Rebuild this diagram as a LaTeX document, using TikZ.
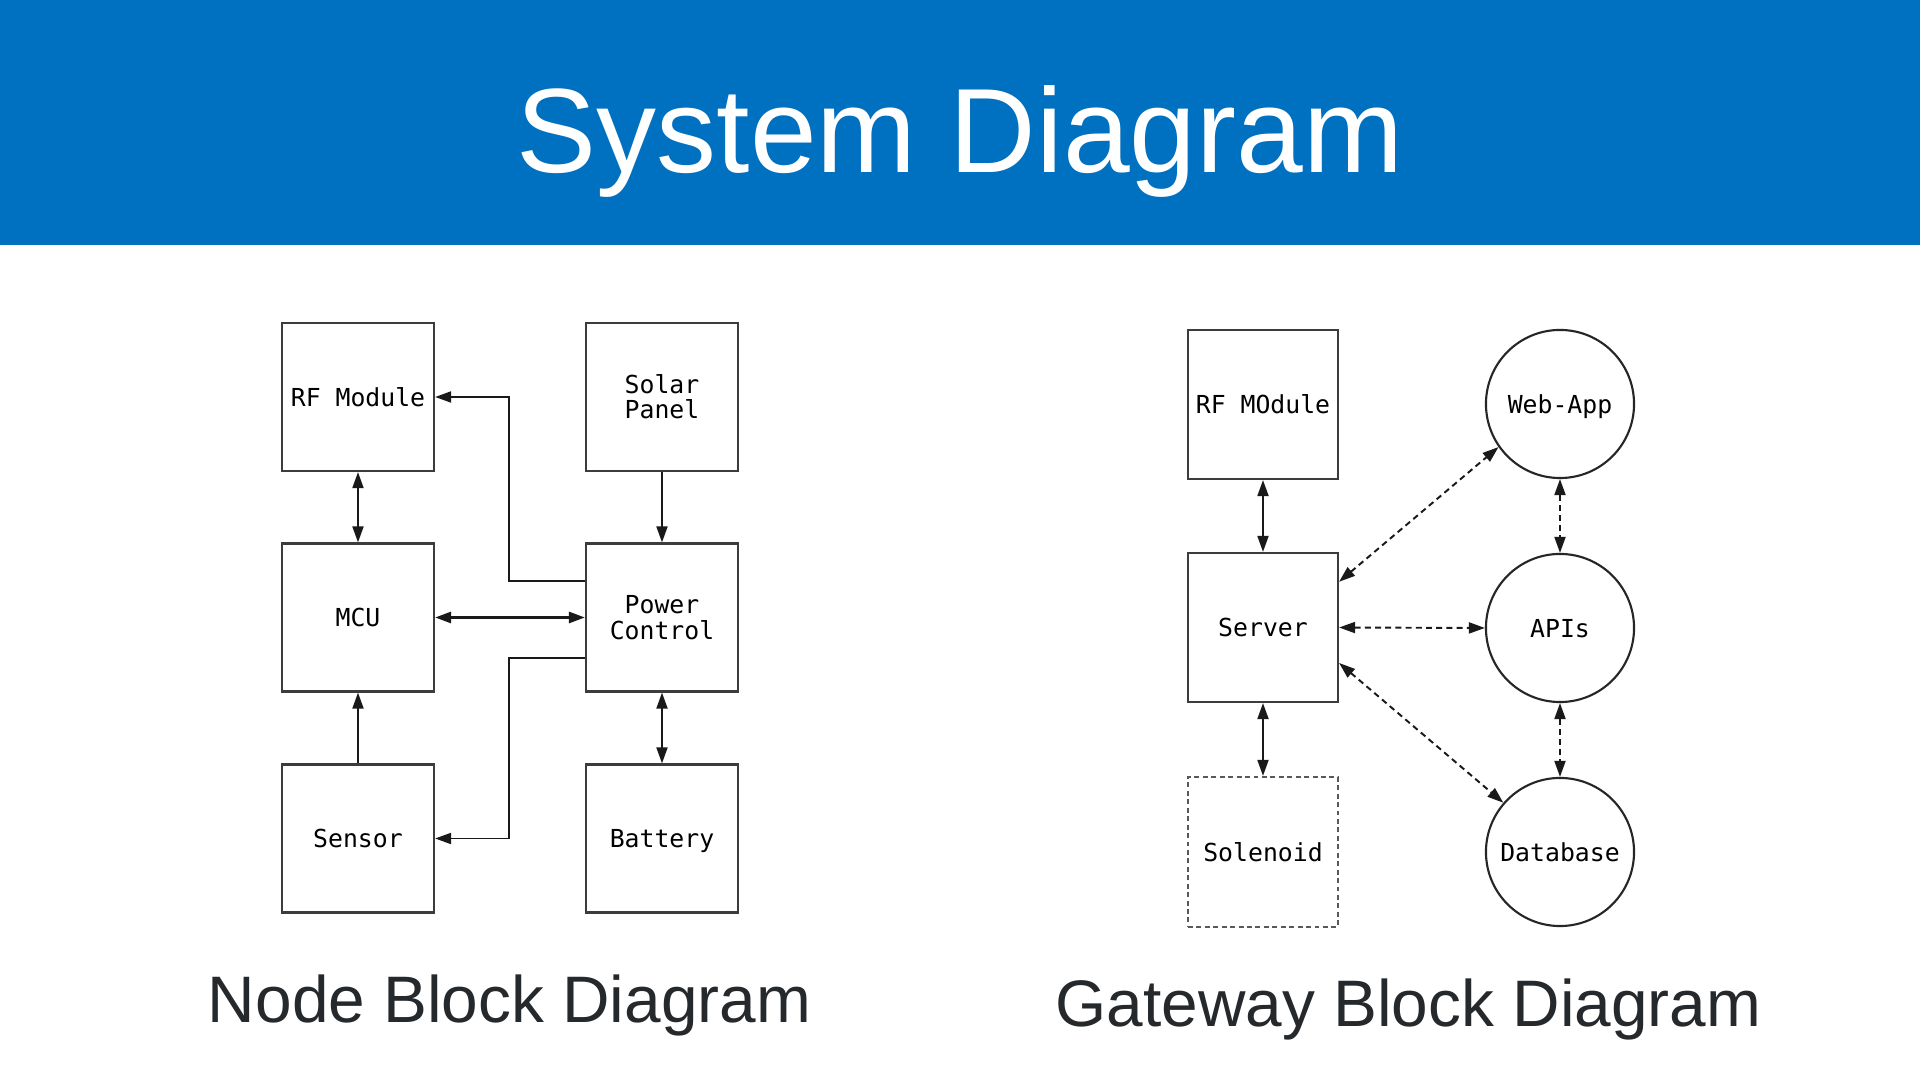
\documentclass[tikz,border=0pt]{standalone}
\usepackage{fontspec}
\setmainfont{Liberation Sans}
\newfontfamily\diagmono{DejaVu Sans Mono}
\usetikzlibrary{arrows.meta,calc}
\definecolor{hdrblue}{RGB}{0,112,192}
\definecolor{captext}{RGB}{38,41,44}
\definecolor{boxline}{RGB}{60,60,60}
\begin{document}
\begin{tikzpicture}[x=0.01cm,y=-0.01cm,
  monotxt/.style={font=\diagmono\fontsize{7.05pt}{7.2pt}\selectfont},
  oneline/.style={text height=5.2pt,text depth=0pt},
  mblk/.style={draw=boxline,line width=0.6pt,minimum width=1.52cm,minimum height=1.48cm,
    inner sep=0pt,align=center,monotxt},
  blk/.style={mblk,oneline},
  dblk/.style={blk,draw=black!65,dash pattern=on 1.4pt off 1.0pt},
  circ/.style={draw=black!85,line width=0.6pt,circle,minimum size=1.48cm,inner sep=0pt,
    align=center,monotxt,oneline},
  arr/.style={line width=0.55pt,draw=black!90,-{Triangle[length=1.6mm,width=1.1mm]}},
  darr/.style={line width=0.55pt,draw=black!90,{Triangle[length=1.6mm,width=1.1mm]}-{Triangle[length=1.6mm,width=1.1mm]}},
  ddarr/.style={darr,dash pattern=on 1.7pt off 1.2pt},
  captxt/.style={anchor=base,text=captext,font=\fontsize{18.7pt}{22pt}\selectfont}
]
\useasboundingbox (0,0) rectangle (1920,1080);
\fill[white] (0,0) rectangle (1920,1080);
\fill[hdrblue] (0,0) rectangle (1920,245);
\node[anchor=base,text=white,font=\fontsize{34.1pt}{40pt}\selectfont] (title) at (960,173) {System Diagram};

% Node block diagram
\node[blk] (rf) at (358,397) {RF Module};
\node[mblk] (solar) at (662,397) {Solar\\Panel};
\node[blk] (mcu) at (358,617.5) {MCU};
\node[mblk] (pw) at (662,617.5) {Power\\Control};
\node[blk] (sn) at (358,838.5) {Sensor};
\node[blk] (bat) at (662,838.5) {Battery};

\draw[darr] (rf.south) -- (mcu.north);
\draw[arr] (solar.south) -- (pw.north);
\draw[darr,line width=0.8pt] (mcu.east) -- (pw.west);
\draw[arr] ([yshift=3.65mm]pw.west) -- ++(-76,0) |- (rf.east);
\draw[arr] ([yshift=-4.05mm]pw.west) -- ++(-76,0) |- (sn.east);
\draw[arr] (sn.north) -- (mcu.south);
\draw[darr] (pw.south) -- (bat.north);

\node[captxt] (capL) at (509.5,1023) {Node Block Diagram};

% Gateway block diagram
\node[blk,minimum width=1.5cm,minimum height=1.49cm] (grf) at (1263,404.5) {RF MOdule};
\node[blk,minimum width=1.5cm,minimum height=1.49cm] (srv) at (1263,627.5) {Server};
\node[dblk,minimum width=1.5cm,minimum height=1.5cm] (sol) at (1263,852) {Solenoid};
\node[circ] (web) at (1560,404) {Web-App};
\node[circ] (api) at (1560,628) {APIs};
\node[circ] (db) at (1560,852) {Database};

\draw[darr] (grf.south) -- (srv.north);
\draw[darr] (srv.south) -- (sol.north);
\draw[ddarr] (srv.31) -- (web.215);
\draw[ddarr] (srv.east) -- (api.west);
\draw[ddarr] (srv.-25) -- (db.139);
\draw[ddarr] (web.south) -- (api.north);
\draw[ddarr] (api.south) -- (db.north);

\node[captxt] (capR) at (1408.5,1027) {Gateway Block Diagram};
\end{tikzpicture}
\end{document}
